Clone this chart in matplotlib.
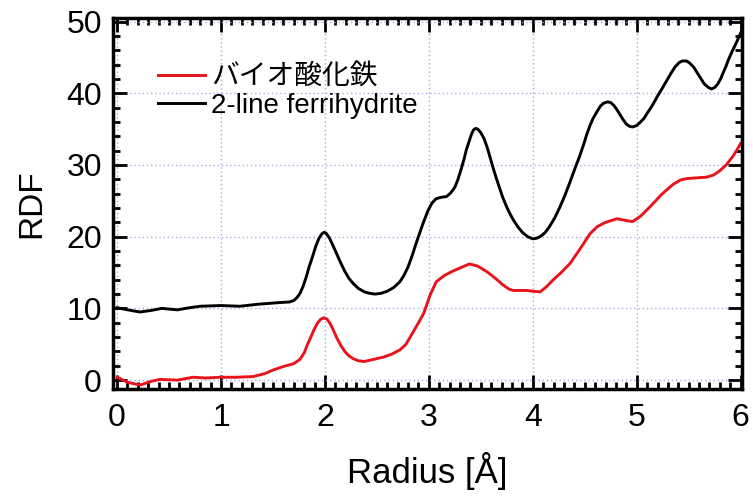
import numpy as np
import matplotlib
matplotlib.use("Agg")
import matplotlib.pyplot as plt
from matplotlib.ticker import MultipleLocator

plt.rcParams['font.family'] = ['Liberation Sans', 'Noto Sans CJK JP', 'DejaVu Sans']

# 2-line ferrihydrite (black)
ferri_r = [0.0, 0.1, 0.22, 0.32, 0.43, 0.58, 0.7, 0.8, 1.0, 1.18, 1.37, 1.55, 1.66, 1.7, 1.73, 1.76,
           1.79, 1.82, 1.85, 1.88, 1.91, 1.94, 1.97, 1.99, 2.01, 2.04, 2.07, 2.11, 2.15, 2.19, 2.23,
           2.27, 2.32, 2.38, 2.43, 2.48, 2.54, 2.6, 2.66, 2.72, 2.76, 2.8, 2.84, 2.88, 2.94,
           2.99, 3.03, 3.07, 3.12, 3.17, 3.21, 3.25, 3.28, 3.31, 3.34, 3.36, 3.39, 3.41, 3.43, 3.45,
           3.47, 3.5, 3.53, 3.56, 3.59, 3.62, 3.65, 3.68, 3.71, 3.75, 3.78, 3.81,
           3.86, 3.9, 3.95, 4.0, 4.04, 4.08, 4.12, 4.16, 4.21, 4.26, 4.31, 4.36, 4.41, 4.45, 4.49,
           4.52, 4.55, 4.58, 4.62, 4.65, 4.68, 4.72, 4.75, 4.78, 4.81, 4.84, 4.87, 4.9,
           4.93, 4.96, 5.0, 5.03, 5.07, 5.1, 5.15, 5.2, 5.25, 5.29, 5.33, 5.37, 5.41, 5.44, 5.48,
           5.51, 5.55, 5.58, 5.62, 5.65, 5.69, 5.72, 5.75, 5.78, 5.81, 5.83, 5.86, 5.88,
           5.92, 5.96, 6.0]
ferri_g = [10.1, 9.8, 9.5, 9.7, 10.0, 9.8, 10.1, 10.3, 10.4, 10.3, 10.6, 10.8, 10.9, 11.1, 11.5, 12.1,
           13.1, 14.4, 15.9, 17.2, 18.6, 19.7, 20.4, 20.6, 20.5, 19.9, 19.0, 17.7, 16.4, 15.2, 14.2,
           13.5, 12.8, 12.3, 12.1, 12.0, 12.1, 12.4, 12.9, 13.7, 14.6, 15.8, 17.4, 19.2, 21.7,
           23.6, 24.7, 25.3, 25.5, 25.6, 26.1, 26.9, 28.0, 29.4, 30.9, 32.1, 33.4, 34.3, 34.9, 35.1,
           35.0, 34.5, 33.7, 32.5, 31.0, 29.5, 28.1, 26.8, 25.5, 24.1, 23.2, 22.4,
           21.3, 20.6, 20.0, 19.7, 19.8, 20.1, 20.6, 21.4, 22.6, 24.1, 25.8, 27.7, 29.7, 31.2, 32.9,
           34.3, 35.5, 36.5, 37.5, 38.2, 38.6, 38.8, 38.7, 38.3, 37.7, 37.0, 36.3, 35.7,
           35.4, 35.3, 35.5, 35.9, 36.5, 37.2, 38.3, 39.6, 40.8, 41.8, 42.8, 43.7, 44.3, 44.5, 44.5,
           44.2, 43.6, 42.9, 42.0, 41.3, 40.8, 40.6, 40.8, 41.3, 42.1, 42.8, 43.8, 44.6,
           45.9, 47.1, 48.4]

# bio-iron oxide (red)
bio_r = [0.0, 0.1, 0.22, 0.32, 0.41, 0.58, 0.73, 0.85, 1.0, 1.15, 1.31, 1.42, 1.5, 1.6, 1.7,
         1.76, 1.8, 1.83, 1.87, 1.9, 1.93, 1.96, 1.99, 2.02, 2.05, 2.08, 2.11, 2.15, 2.19, 2.23,
         2.27, 2.32, 2.38, 2.47, 2.56, 2.64, 2.72, 2.78,
         2.84, 2.9, 2.95, 3.01, 3.07, 3.15, 3.23, 3.31, 3.39, 3.47, 3.56, 3.64, 3.71, 3.77, 3.81,
         3.88, 3.94, 4.0, 4.07, 4.13, 4.19, 4.28, 4.36, 4.45, 4.55, 4.62, 4.7, 4.81, 4.88, 4.96,
         5.04, 5.13, 5.24, 5.35, 5.42, 5.48, 5.57, 5.67, 5.74, 5.8, 5.86, 5.92, 5.96, 6.0]
bio_g = [0.4, -0.3, -0.7, -0.2, 0.1, 0.0, 0.4, 0.3, 0.4, 0.4, 0.5, 0.9, 1.4, 1.9, 2.3,
         2.9, 3.8, 4.9, 6.2, 7.2, 8.0, 8.5, 8.7, 8.5, 7.9, 7.0, 6.0, 4.9, 4.0, 3.4,
         3.0, 2.7, 2.6, 2.9, 3.2, 3.6, 4.2, 5.0,
         6.5, 8.0, 9.3, 11.8, 13.7, 14.6, 15.2, 15.7, 16.2, 15.9, 15.1, 14.2, 13.3, 12.7, 12.5,
         12.5, 12.5, 12.4, 12.3, 13.0, 13.9, 15.1, 16.3, 18.2, 20.4, 21.4, 22.0, 22.5, 22.3, 22.1,
         22.9, 24.2, 25.9, 27.3, 27.9, 28.1, 28.2, 28.3, 28.6, 29.2, 30.0, 31.1, 32.0, 33.0]

labels = ['バイオ酸化鉄', '2-line ferrihydrite']

fig = plt.figure(figsize=(7.53, 4.99), dpi=100)
ax = fig.add_axes([0.150, 0.221, 0.835, 0.743])

ax.plot(bio_r, bio_g, color='#e8141c', lw=2.1, label=labels[0])
ax.plot(ferri_r, ferri_g, color='black', lw=2.1, label=labels[1])

ax.set_xlim(-0.04, 6.01)
ax.set_ylim(-1.2, 50.5)
ax.xaxis.set_major_locator(MultipleLocator(1))
ax.xaxis.set_minor_locator(MultipleLocator(0.1))
ax.yaxis.set_major_locator(MultipleLocator(10))
ax.yaxis.set_minor_locator(MultipleLocator(2))

ax.grid(True, which='major', color='#a8a8e6', ls=(0, (1, 2)), lw=1.0)
for s in ax.spines.values():
    s.set_linewidth(2.5)
ax.tick_params(which='both', direction='in', top=True, right=True, width=2)
ax.tick_params(which='major', length=10)
ax.tick_params(which='minor', length=5)
ax.tick_params(axis='x', which='major', labelsize=23, pad=10)
ax.tick_params(axis='y', which='major', labelsize=23, pad=8)

ax.set_xlabel('Radius [Å]', fontsize=25, labelpad=14)
ax.set_ylabel('RDF', fontsize=24, labelpad=14)

ax.legend(loc='upper left', bbox_to_anchor=(0.054, 0.905), frameon=False, fontsize=20,
          handlelength=1.7, handletextpad=0.2, labelspacing=0.1, borderaxespad=0)

fig.savefig('out.png', dpi=100)
